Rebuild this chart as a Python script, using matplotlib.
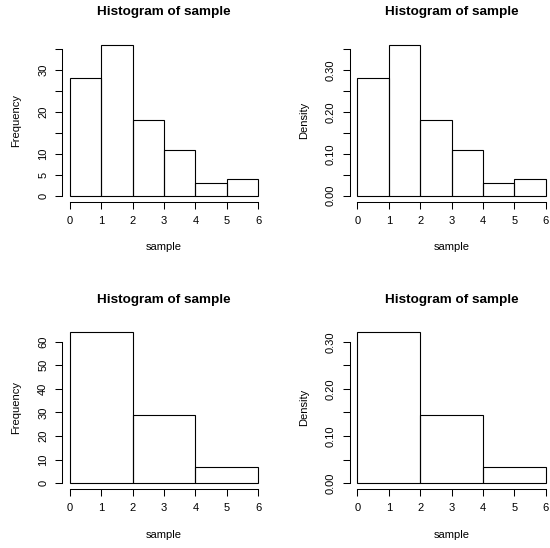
import matplotlib
matplotlib.use("Agg")
import matplotlib.pyplot as plt

plt.rcParams['font.family'] = ['Liberation Sans', 'DejaVu Sans']

W, H = 550, 548

# histogram data
edges_fine = [0, 1, 2, 3, 4, 5, 6]
counts_fine = [28, 36, 18, 11, 3, 4]
density_fine = [0.28, 0.36, 0.18, 0.11, 0.03, 0.04]

edges_coarse = [0, 2, 4, 6]
counts_coarse = [64, 29, 7]
density_coarse = [0.32, 0.145, 0.035]

x_ticks = [0, 1, 2, 3, 4, 5, 6]

freq_ticks_fine = [0, 5, 10, 15, 20, 25, 30, 35]
freq_labels_fine = ["0", "5", "10", "", "20", "", "30", ""]
dens_ticks_fine = [0, 0.05, 0.10, 0.15, 0.20, 0.25, 0.30, 0.35]
dens_labels_fine = ["0.00", "", "0.10", "", "0.20", "", "0.30", ""]

freq_ticks_coarse = [0, 10, 20, 30, 40, 50, 60]
freq_labels_coarse = ["0", "10", "20", "30", "40", "50", "60"]
dens_ticks_coarse = [0, 0.05, 0.10, 0.15, 0.20, 0.25, 0.30]
dens_labels_coarse = ["0.00", "", "0.10", "", "0.20", "", "0.30"]

fig = plt.figure(figsize=(W / 100, H / 100), dpi=100)

panels = [
    (0, 0, edges_fine, counts_fine, "Frequency", freq_ticks_fine, freq_labels_fine),
    (1, 0, edges_fine, density_fine, "Density", dens_ticks_fine, dens_labels_fine),
    (0, 1, edges_coarse, counts_coarse, "Frequency", freq_ticks_coarse, freq_labels_coarse),
    (1, 1, edges_coarse, density_coarse, "Density", dens_ticks_coarse, dens_labels_coarse),
]

shift = 287.5
pw, ph = 203.5, 162.9

for col, row, edges, vals, ylab, yt, ytl in panels:
    left = 62.3 + col * shift
    top = 38.8 + row * shift
    bottom = top + ph
    ax = fig.add_axes([left / W, 1 - bottom / H, pw / W, ph / H])
    ax.patch.set_visible(False)

    widths = [edges[i + 1] - edges[i] for i in range(len(vals))]
    ax.bar(edges[:-1], vals, width=widths, align='edge',
           facecolor='none', edgecolor='black', linewidth=0.8)

    ymax = max(vals)
    ax.set_xlim(-0.04 * 6, 6 + 0.04 * 6)
    ax.set_ylim(-0.04 * ymax, ymax * 1.04)

    ax.set_xticks(x_ticks)
    ax.set_xticklabels([str(t) for t in x_ticks])
    ax.set_yticks(yt)
    ax.set_yticklabels(ytl)
    plt.setp(ax.get_yticklabels(), rotation=90, va='center')
    ax.tick_params(length=5, width=0.75, pad=5.2, labelsize=8, direction='out')

    for s in ['top', 'right']:
        ax.spines[s].set_visible(False)
    ax.spines['left'].set_bounds(yt[0], yt[-1])
    ax.spines['bottom'].set_bounds(x_ticks[0], x_ticks[-1])
    ax.spines['left'].set_linewidth(0.75)
    ax.spines['bottom'].set_linewidth(0.75)

    cx = left + pw / 2
    cy = top + ph / 2
    fig.text(cx / W, 1 - (top - 26.3) / H, "Histogram of sample",
             ha='center', va='center', fontsize=9.7, fontweight='bold')
    fig.text(cx / W, 1 - (bottom + 45.5) / H, "sample",
             ha='center', va='center', fontsize=8)
    fig.text((left - 46) / W, 1 - cy / H, ylab,
             ha='center', va='center', rotation=90, fontsize=8)

fig.savefig("out.png", dpi=100)
